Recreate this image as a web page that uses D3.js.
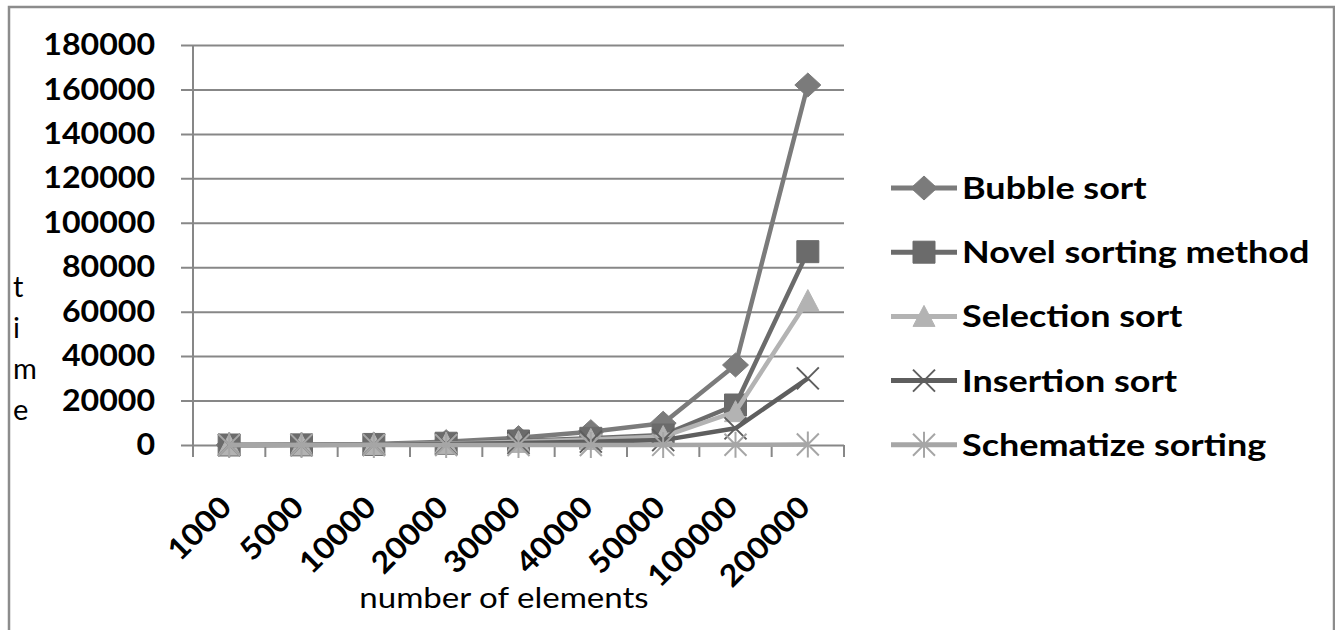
<!DOCTYPE html>
<html>
<head>
<meta charset="utf-8">
<script src="https://cdn.jsdelivr.net/npm/d3@7"></script>
<style>
  body { margin: 0; background: #fff; }
  text { font-family: Lato, "Open Sans", sans-serif; fill: #000; }
</style>
</head>
<body>
<script>
// categories (number of elements)
var categories = ["1000", "5000", "10000", "20000", "30000", "40000", "50000", "100000", "200000"];

// series values (time)
var bubbleSort = [10, 100, 400, 1500, 3300, 6000, 9800, 36000, 162000];
var novelSort = [5, 60, 250, 800, 1800, 3000, 4500, 18000, 87000];
var selectionSort = [5, 50, 200, 700, 1500, 2500, 3800, 15000, 65000];
var insertionSort = [3, 30, 120, 400, 900, 1500, 2200, 7500, 30000];
var schematizeSort = [0, 0, 0, 10, 20, 30, 50, 100, 200];

var seriesNames = ["Bubble sort", "Novel sorting method", "Selection sort", "Insertion sort", "Schematize sorting"];
var yTicks = [0, 20000, 40000, 60000, 80000, 100000, 120000, 140000, 160000, 180000];

var SERIES = [
    {name: seriesNames[0], values: bubbleSort, color: "#7b7b7b", marker: "diamond"},
    {name: seriesNames[1], values: novelSort, color: "#6b6b6b", marker: "square"},
    {name: seriesNames[2], values: selectionSort, color: "#b3b3b3", marker: "triangle"},
    {name: seriesNames[3], values: insertionSort, color: "#5e5e5e", marker: "x"},
    {name: seriesNames[4], values: schematizeSort, color: "#a6a6a6", marker: "star"}
];

var W = 1335, H = 630;
var PLOT = {left: 193, right: 844, top: 45, bottom: 445};
var AXIS_COLOR = "#878787";

// the source font is a bit wider than Lato, so stretch text horizontally
function stretch(sel, factor) {
    sel.each(function () {
        var len = this.getComputedTextLength();
        d3.select(this)
            .attr("textLength", len * factor)
            .attr("lengthAdjust", "spacingAndGlyphs");
    });
}

var svg = d3.select("body").append("svg")
    .attr("width", W)
    .attr("height", H);

// outer frame
svg.append("rect")
    .attr("x", 9).attr("y", 7)
    .attr("width", 1325).attr("height", 640)
    .attr("fill", "none")
    .attr("stroke", "#8c8c8c")
    .attr("stroke-width", 2.5);

// scales
var xScale = d3.scaleBand().domain(categories).range([PLOT.left, PLOT.right]);
var yScale = d3.scaleLinear().domain([0, 180000]).range([PLOT.bottom, PLOT.top]);

// gridlines + y labels
var yAxis = d3.axisLeft(yScale)
    .tickValues(yTicks)
    .tickSize(-(PLOT.right - PLOT.left))
    .tickSizeOuter(0)
    .tickPadding(38)
    .tickFormat(d3.format("d"));

var gy = svg.append("g")
    .attr("transform", "translate(" + PLOT.left + ",0)")
    .call(yAxis);
gy.select(".domain").remove();
gy.selectAll(".tick line")
    .attr("x1", -12)
    .attr("stroke", AXIS_COLOR)
    .attr("stroke-width", 2);
gy.selectAll(".tick text")
    .attr("fill", "#000")
    .style("font-family", "Lato, sans-serif")
    .style("font-weight", "bold")
    .style("font-size", "30px")
    .call(stretch, 1.07);

// y axis line
svg.append("line")
    .attr("x1", PLOT.left).attr("x2", PLOT.left)
    .attr("y1", yScale(180000)).attr("y2", PLOT.bottom + 12)
    .attr("stroke", AXIS_COLOR).attr("stroke-width", 2);

// x ticks at band edges
var edges = categories.map(function (c) { return xScale(c) + xScale.bandwidth(); });
svg.append("g").selectAll("line")
    .data(edges)
    .enter().append("line")
    .attr("x1", function (d) { return d; })
    .attr("x2", function (d) { return d; })
    .attr("y1", PLOT.bottom)
    .attr("y2", PLOT.bottom + 12)
    .attr("stroke", AXIS_COLOR).attr("stroke-width", 2);

// x labels, rotated
svg.append("g").selectAll("text")
    .data(categories)
    .enter().append("text")
    .attr("text-anchor", "end")
    .attr("transform", function (d) {
        return "translate(" + (xScale(d) + xScale.bandwidth() / 2 + 4) + ",509) rotate(-45)";
    })
    .style("font-weight", "bold")
    .style("font-size", "30px")
    .text(function (d) { return d; })
    .call(stretch, 1.08);

// axis titles
svg.append("text")
    .attr("x", 504).attr("y", 608)
    .attr("text-anchor", "middle")
    .style("font-size", "29px")
    .text("number of elements")
    .call(stretch, 1.14);

var timeLetters = ["t", "i", "m", "e"];
svg.append("g").selectAll("text")
    .data(timeLetters)
    .enter().append("text")
    .attr("x", 13)
    .attr("y", function (d, i) { return 297 + i * 41; })
    .style("font-size", "29px")
    .text(function (d) { return d; });

// marker paths
function markerPath(type) {
    switch (type) {
        case "diamond": return "M0,-12L13,0L0,12L-13,0Z";
        case "square": return "M-11,-11H11V11H-11Z";
        case "triangle": return "M0,-11L11,10H-11Z";
        case "x": return "M-11,-11L11,11M-11,11L11,-11";
        case "star": return "M-11,-11L11,11M-11,11L11,-11M0,-13V13";
    }
}

function drawMarker(g, type, color) {
    var open = (type === "x" || type === "star");
    g.append("path")
        .attr("d", markerPath(type))
        .attr("fill", open ? "none" : color)
        .attr("stroke", color)
        .attr("stroke-width", open ? 2 : 1);
}

var line = d3.line()
    .x(function (d, i) { return xScale(categories[i]) + xScale.bandwidth() / 2; })
    .y(function (d) { return yScale(d); });

SERIES.forEach(function (s) {
    var g = svg.append("g");
    g.append("path")
        .datum(s.values)
        .attr("d", line)
        .attr("fill", "none")
        .attr("stroke", s.color)
        .attr("stroke-width", 4.5)
        .attr("stroke-linejoin", "round");
    s.values.forEach(function (v, i) {
        var m = g.append("g")
            .attr("transform", "translate(" + (xScale(categories[i]) + xScale.bandwidth() / 2) + "," + yScale(v) + ")");
        drawMarker(m, s.marker, s.color);
    });
});

// legend
var legend = svg.append("g").attr("transform", "translate(891,188)");
SERIES.forEach(function (s, i) {
    var row = legend.append("g").attr("transform", "translate(0," + (i * 64.2) + ")");
    row.append("line")
        .attr("x1", 0).attr("x2", 66)
        .attr("stroke", s.color).attr("stroke-width", 5);
    var m = row.append("g").attr("transform", "translate(33,0)");
    drawMarker(m, s.marker, s.color);
    row.append("text")
        .attr("x", 71).attr("y", 11)
        .style("font-weight", "bold")
        .style("font-size", "31px")
        .text(s.name)
        .call(stretch, 1.16);
});
</script>
</body>
</html>
